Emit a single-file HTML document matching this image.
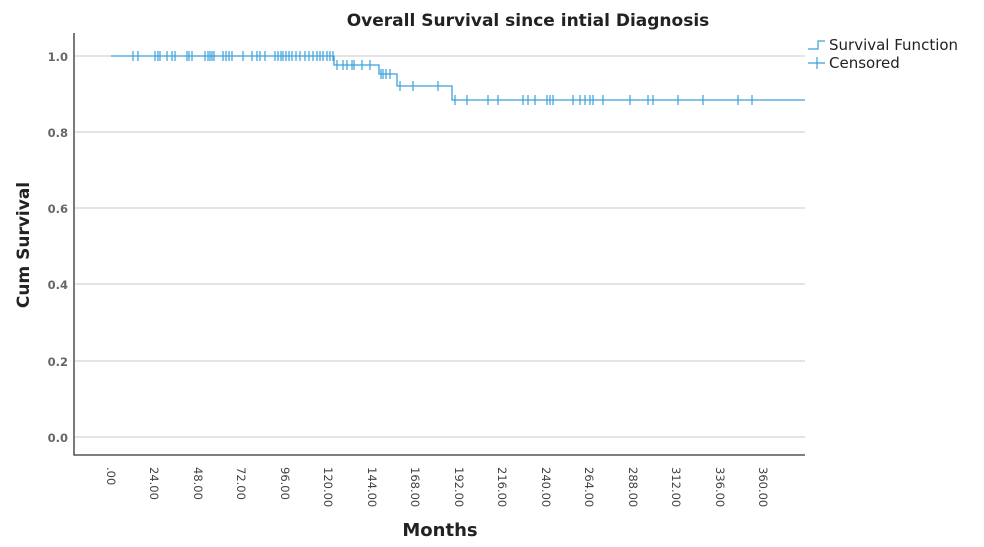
<!DOCTYPE html>
<html><head><meta charset="utf-8"><style>body{margin:0;background:#fff}svg{display:block}</style></head><body>
<svg width="984" height="547" xmlns="http://www.w3.org/2000/svg" font-family="DejaVu Sans, Liberation Sans, sans-serif">
<rect width="984" height="547" fill="#fff"/>
<text x="528" y="26" text-anchor="middle" font-size="17" font-weight="bold" fill="#222">Overall Survival since intial Diagnosis</text>
<g stroke="#c8c8c8" stroke-width="1">
<line x1="75" y1="56" x2="805" y2="56"/><line x1="75" y1="132" x2="805" y2="132"/><line x1="75" y1="208" x2="805" y2="208"/><line x1="75" y1="284" x2="805" y2="284"/><line x1="75" y1="361" x2="805" y2="361"/><line x1="75" y1="437" x2="805" y2="437"/>
</g>
<polyline fill="none" stroke="#333" stroke-width="1.3" points="74,33 74,455 805,455"/>
<g font-size="11.5" font-weight="bold" fill="#666" text-anchor="end">
<text x="68" y="61">1.0</text><text x="68" y="137">0.8</text><text x="68" y="213">0.6</text><text x="68" y="289">0.4</text><text x="68" y="366">0.2</text><text x="68" y="442">0.0</text>
</g>
<text transform="translate(29,245) rotate(-90)" text-anchor="middle" font-size="17" font-weight="bold" fill="#222">Cum Survival</text>
<g font-size="11.5" fill="#444">
<text transform="translate(107,467) rotate(90)">.00</text>
<text transform="translate(150,467) rotate(90)">24.00</text>
<text transform="translate(194,467) rotate(90)">48.00</text>
<text transform="translate(237,467) rotate(90)">72.00</text>
<text transform="translate(281,467) rotate(90)">96.00</text>
<text transform="translate(324,467) rotate(90)">120.00</text>
<text transform="translate(368,467) rotate(90)">144.00</text>
<text transform="translate(411,467) rotate(90)">168.00</text>
<text transform="translate(455,467) rotate(90)">192.00</text>
<text transform="translate(498,467) rotate(90)">216.00</text>
<text transform="translate(542,467) rotate(90)">240.00</text>
<text transform="translate(585,467) rotate(90)">264.00</text>
<text transform="translate(629,467) rotate(90)">288.00</text>
<text transform="translate(672,467) rotate(90)">312.00</text>
<text transform="translate(716,467) rotate(90)">336.00</text>
<text transform="translate(759,467) rotate(90)">360.00</text>
</g>
<text x="440" y="536" text-anchor="middle" font-size="18" font-weight="bold" fill="#222">Months</text>
<polyline fill="none" stroke="#3aa0dc" stroke-width="1.3" points="111,56 334,56 334,65 379,65 379,74 397,74 397,86 452,86 452,100 805,100"/>
<g stroke="#3aa0dc" stroke-width="1.2">
<path d="M133,51v10M138,51v10M155,51v10M158,51v10M160,51v10M167,51v10M172,51v10M175,51v10M187,51v10M189,51v10M192,51v10M205,51v10M208,51v10M210,51v10M212,51v10M214,51v10M223,51v10M226,51v10M229,51v10M232,51v10M243,51v10M252,51v10M257,51v10M260,51v10M265,51v10M275,51v10M278,51v10M281,51v10M283,51v10M286,51v10M289,51v10M292,51v10M296,51v10M300,51v10M305,51v10M309,51v10M313,51v10M317,51v10M320,51v10M323,51v10M327,51v10M330,51v10M333,51v10"/>
<path d="M337,60v10M343,60v10M347,60v10M352,60v10M354,60v10M362,60v10M370,60v10"/>
<path d="M381,69v10M383,69v10M386,69v10M390,69v10"/>
<path d="M400,81v10M413,81v10M438,81v10"/>
<path d="M455,95v10M467,95v10M488,95v10M498,95v10M523,95v10M528,95v10M535,95v10M547,95v10M550,95v10M553,95v10M573,95v10M580,95v10M585,95v10M590,95v10M593,95v10M603,95v10M630,95v10M648,95v10M653,95v10M678,95v10M703,95v10M738,95v10M752,95v10"/>
</g>
<polyline fill="none" stroke="#3aa0dc" stroke-width="1.2" points="808,49 818,49 818,41 825,41"/>
<line x1="808" y1="63" x2="825" y2="63" stroke="#3aa0dc" stroke-width="1.2"/>
<line x1="817" y1="57" x2="817" y2="69" stroke="#3aa0dc" stroke-width="1.2"/>
<text x="829" y="50" font-size="15" fill="#222">Survival Function</text>
<text x="829" y="68" font-size="15" fill="#222">Censored</text>
</svg>
</body></html>
